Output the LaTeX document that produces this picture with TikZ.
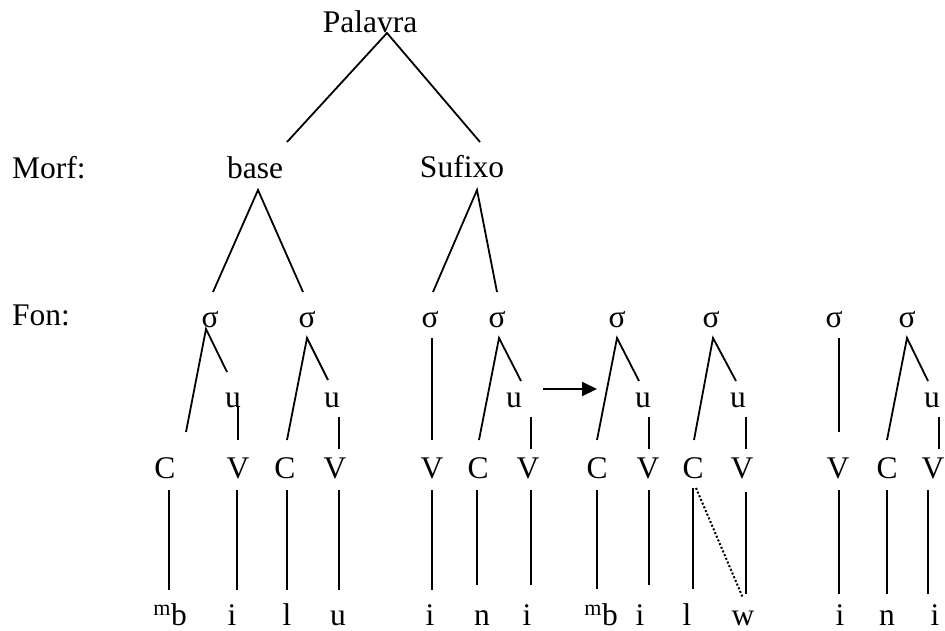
\documentclass[tikz,border=0pt]{standalone}
\usepackage{fontspec}
\setmainfont{Liberation Serif}
\usetikzlibrary{arrows.meta}
\begin{document}
\begin{tikzpicture}[x=1pt,y=-1pt,
  lbl/.style={inner sep=0pt,anchor=base,font=\fontsize{31.5}{36}\selectfont},
  lbll/.style={lbl,anchor=base west},
  br/.style={line width=1.8pt},
  dotl/.style={line width=2pt,dash pattern=on 2pt off 2pt},
  arr/.style={line width=2pt,-{Triangle[length=15pt,width=14pt]}}]
\useasboundingbox (0,0) rectangle (945,630);
% labels
\node[lbl] (pal) at (370,32) {Palavra};
\node[lbll] (morf) at (12,178) {Morf:};
\node[lbll] (fon) at (12,325) {Fon:};
\node[lbl] (base) at (255,178) {base};
\node[lbl] (suf) at (462,177) {Sufixo};
% syllables
\foreach \n/\x in {s1/210,s2/307,s3/430,s4/497,s5/617,s6/711,s7/834,s8/907}
  \node[lbl] (\n) at (\x,327) {σ};
% u nodes
\foreach \n/\x in {u1/233,u2/332,u4/514,u5/643,u6/738,u8/932}
  \node[lbl] (\n) at (\x,407) {u};
% CV row
\foreach \n/\x/\t in {c1/165/C,v1/238/V,c2/285/C,v2/335/V,v3/432/V,c3/478/C,v4/528/V,
  c4/597/C,v5/648/V,c5/693/C,v6/742/V,v7/838/V,c6/887/C,v8/933/V}
  \node[lbl] (\n) at (\x,478) {\t};
% segments
\node[lbl,anchor=base east] (p1) at (187,625) {\textsuperscript{m}b};
\node[lbl,anchor=base east] (p8) at (618,625) {\textsuperscript{m}b};
\foreach \n/\x/\t in {p2/232/i,p3/287/l,p4/338/u,p5/430/i,p6/482/n,p7/527/i,
  p9/640/i,p10/687/l,p11/743/w,p12/840/i,p13/887/n,p14/935/i}
  \node[lbl] (\n) at (\x,625) {\t};
% coordinates
\coordinate (palB) at (387,33);
\coordinate (palL) at (287,142);
\coordinate (palR) at (480,142);
\coordinate (baseB) at (258,190);
\coordinate (baseL) at (213,292);
\coordinate (baseR) at (303,292);
\coordinate (sufB) at (477,190);
\coordinate (sufL) at (433,292);
\coordinate (sufR) at (497,292);
% morphology tree
\draw[br] (palL) -- (palB) -- (palR);
\draw[br] (baseL) -- (baseB) -- (baseR);
\draw[br] (sufL) -- (sufB) -- (sufR);
% syllable branches
\foreach \a/\l/\r in {{206,329}/{186,432}/{227,372},{307,338}/{287,440}/{328,380},
  {499,338}/{479,440}/{521,381},{617,338}/{597,440}/{639,381},
  {713,338}/{694,440}/{736,381},{907,338}/{887,440}/{928,381}}
  \draw[br] (\l) -- (\a) -- (\r);
\draw[br] (432,338) -- (432,440);
\draw[br] (839,338) -- (839,432);
% u to V
\draw[br] (238,407) -- (238,440);
\foreach \x in {339,531,649,746,939}
  \draw[br] (\x,417) -- (\x,449);
% CV to segments
\foreach \x/\a/\b in {169/490/590,237/490/590,287/490/590,339/490/590,432/490/590,
  477/490/585,531/490/585,597/490/589,649/490/585,693/488/589,746/492/594,
  839/490/594,887/490/594,928/490/594}
  \draw[br] (\x,\a) -- (\x,\b);
% dotted association
\coordinate (dotA) at (696,488);
\coordinate (dotB) at (743,598);
\draw[dotl] (dotA) -- (dotB);
% arrow
\coordinate (arrA) at (543,389);
\coordinate (arrB) at (597,389);
\draw[arr] (arrA) -- (arrB);
\end{tikzpicture}
\end{document}
